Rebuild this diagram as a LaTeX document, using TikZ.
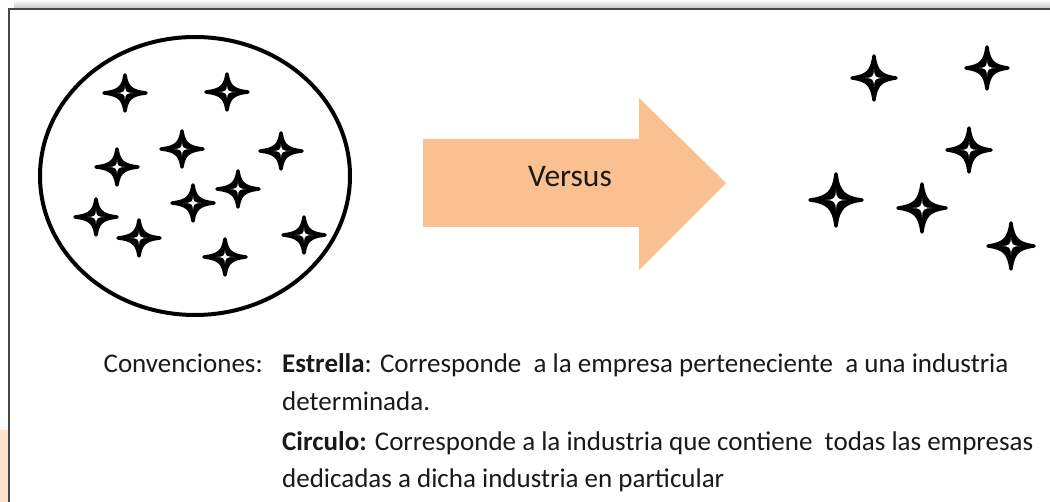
\documentclass[tikz,border=0pt]{standalone}
\usepackage{fontspec}
\setmainfont{Carlito}
\usepackage{tikz}
\usetikzlibrary{positioning}
\definecolor{versusorange}{RGB}{250,192,143}
\definecolor{framegray}{RGB}{70,70,70}
\definecolor{peach}{RGB}{253,226,208}
\definecolor{textgray}{RGB}{25,25,25}

\tikzset{
  estrella/.pic={
    % cuerpo negro
    \filldraw[line width=3.5pt, line join=round]
      (-1,0) .. controls (-0.3,0.09) and (-0.09,0.3) .. (0,1)
      .. controls (0.09,0.3) and (0.3,0.09) .. (1,0)
      .. controls (0.3,-0.09) and (0.09,-0.3) .. (0,-1)
      .. controls (-0.09,-0.3) and (-0.3,-0.09) .. (-1,0) -- cycle;
    % hueco blanco
    \fill[white, scale=0.4]
      (-1,0) .. controls (-0.15,0.04) and (-0.04,0.15) .. (0,1)
      .. controls (0.04,0.15) and (0.15,0.04) .. (1,0)
      .. controls (0.15,-0.04) and (0.04,-0.15) .. (0,-1)
      .. controls (-0.04,-0.15) and (-0.15,-0.04) .. (-1,0) -- cycle;
  },
  leyenda/.style={font=\fontsize{27}{31}\selectfont, inner sep=0pt, anchor=base west, text=textgray}
}

\begin{document}
\begin{tikzpicture}[x=1pt, y=-1pt]
        \useasboundingbox (0,0) rectangle (1050,502);
        % Frame and shadow
        \shade[top color=white, bottom color=black!22] (14,0) rectangle (1050,8);
        \fill[peach] (0,430) rectangle (8,502);
        \draw[framegray, line width=1.6pt] (9,502) -- (9,9) -- (1050,9);

        % Industria (circulo)
        \draw[line width=4pt] (195,176) ellipse [x radius=155, y radius=139];
        \foreach \x/\y in {125/93, 227/92, 182/149, 281/151, 117/167, 238/189,
                           193/203, 96/217, 139/238, 304/235, 225/257} {
          \pic[xscale=21, yscale=18] at (\x,\y) {estrella};
        }

        % Versus arrow
        \fill[versusorange] (423,139) -- (639,139) -- (639,98) -- (726,183)
          -- (639,270) -- (639,227) -- (423,227) -- cycle;
        \node[font=\fontsize{31.5}{36}\selectfont, inner sep=0pt, anchor=base, text=textgray]
          (versus) at (570,187) {Versus};

        % Empresas sueltas
        \foreach \x/\y/\r in {874/78/22, 987/68/21, 969/150/22, 836/200/26,
                              922/208/24, 1011/246/23} {
          \pic[scale=\r] at (\x,\y) {estrella};
        }

        % Convenciones
        \node[leyenda, anchor=base east] (conv) at (263,373) {Convenciones:};
        \node[leyenda] (linea1) at (282,373) {\textbf{Estrella}: Corresponde\ \ a la empresa perteneciente\ \ a una industria};
        \node[leyenda] (linea2) at (282,411) {determinada.};
        \node[leyenda] (linea3) at (282,450) {\textbf{Circulo:} Corresponde a la industria que contiene\ \ todas las empresas};
        \node[leyenda] (linea4) at (282,487) {dedicadas a dicha industria en particular};
      \end{tikzpicture}
\end{document}
